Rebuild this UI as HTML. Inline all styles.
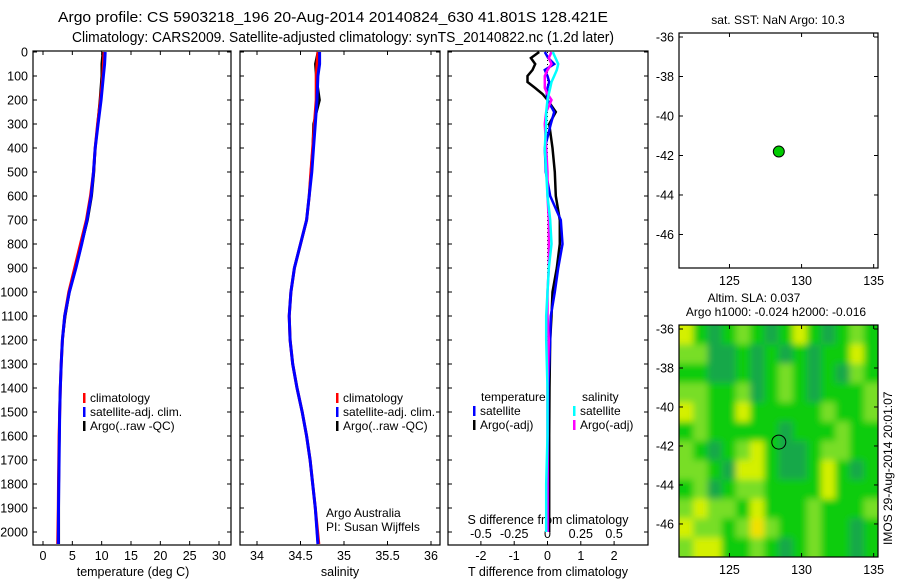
<!DOCTYPE html>
<html><head><meta charset="utf-8"><style>
html,body{margin:0;padding:0;background:#fff;}
svg{display:block;font-family:"Liberation Sans",sans-serif;}
text{fill:#000;}
</style></head><body>
<svg id="fig" width="900" height="580" viewBox="0 0 900 580">
<defs>
<filter id="blur" x="-5%" y="-5%" width="110%" height="110%"><feGaussianBlur stdDeviation="3.5"/></filter>
<clipPath id="mapclip"><rect x="679" y="325" width="199" height="232"/></clipPath>
</defs>
<text x="333" y="22" font-size="14.5" text-anchor="middle" textLength="550" lengthAdjust="spacingAndGlyphs">Argo profile: CS 5903218_196 20-Aug-2014 20140824_630 41.801S 128.421E</text>
<text x="343" y="42" font-size="14.5" text-anchor="middle" textLength="542" lengthAdjust="spacingAndGlyphs">Climatology: CARS2009. Satellite-adjusted climatology: synTS_20140822.nc (1.2d later)</text>
<g id="g"></g>
</svg>
<script>
// ---- data ----
const depthTicks = [0,100,200,300,400,500,600,700,800,900,1000,1100,1200,1300,1400,1500,1600,1700,1800,1900,2000];
const tTicks = [0,5,10,15,20,25,30];
const sTicks = [34,34.5,35,35.5,36];
const dTTicks = [-2,-1,0,1,2];
const dSTicks = [-0.5,-0.25,0,0.25,0.5];
const dSTickLabels = ["-0.5","-0.25","0","0.25","0.5"];
const profDepth = [0,50,100,200,300,400,500,600,700,800,900,1000,1100,1200,1300,1400,1500,1600,1700,1800,1900,2050];
const tempClim = [10.4,10.3,10.2,9.8,9.3,8.9,8.6,8.1,7.4,6.4,5.4,4.4,3.7,3.3,3.1,2.95,2.85,2.75,2.7,2.65,2.6,2.5];
const tempSat  = [10.6,10.5,10.3,9.9,9.4,8.9,8.6,8.2,7.5,6.6,5.6,4.5,3.7,3.3,3.1,2.95,2.85,2.8,2.75,2.7,2.65,2.6];
const tempArgo = [10.2,10.0,10.0,9.7,9.3,8.9,8.7,8.3,7.6,6.6,5.6,4.5,3.8,3.3,3.1,2.95,2.85,2.8,2.75,2.7,2.7,2.7];
const salClim = [34.70,34.69,34.68,34.68,34.66,34.64,34.62,34.60,34.57,34.50,34.43,34.39,34.37,34.38,34.41,34.46,34.52,34.57,34.61,34.64,34.67,34.71];
const salSat  = [34.72,34.72,34.70,34.69,34.67,34.65,34.63,34.60,34.57,34.50,34.43,34.39,34.37,34.38,34.41,34.46,34.52,34.57,34.61,34.64,34.67,34.70];
const salArgo = [34.70,34.67,34.68,34.72,34.65,34.64,34.62,34.60,34.57,34.50,34.43,34.39,34.37,34.38,34.41,34.46,34.52,34.57,34.61,34.64,34.67,34.70];
const diffDepth = [0,25,50,75,100,125,150,175,200,250,300,400,500,600,700,800,900,1000,1100,1200,1400,1600,1800,2000];
const dTArgo = [-0.25,-0.5,-0.37,-0.45,-0.6,-0.6,-0.37,-0.15,0,0.25,0.05,0.15,0.22,0.25,0.37,0.37,0.28,0.15,0.12,0.08,0.06,0.05,0.05,0.05];
const dTSat  = [-0.08,0.02,0.2,-0.08,0,0.05,0,-0.02,0,0.2,0.1,-0.08,-0.05,0.08,0.4,0.45,0.32,0.22,0.1,0.08,0.02,0.01,0.01,0.01];
const dSSat  = [0.04,0.06,0.08,0.07,0.05,0.03,0.02,0.01,0,-0.01,-0.01,-0.02,-0.01,0,0.02,0.03,0.01,0,-0.01,-0.01,0,0,-0.01,-0.01];
const dSArgo = [0.03,0.01,0.03,0,-0.02,-0.02,-0.02,0,0.03,-0.01,-0.02,-0.01,0,0,0.01,0.01,0.01,0,0,0.01,0,0,0,0];
const mapLonTicks = [125,130,135];
const mapLatTicks = [-36,-38,-40,-42,-44,-46];
const floatLon = 128.421, floatLat = -41.801;
const slaGrid = [
[3,1,0,1,2,1,0,1,3,1,0,1,2,1],
[2,2,0,0,1,0,1,0,1,0,1,1,3,1],
[1,1,0,0,1,0,1,2,1,0,1,0,2,1],
[2,2,1,1,2,0,1,2,1,0,1,1,1,2],
[3,2,1,1,3,1,1,1,1,1,2,1,1,2],
[1,2,1,1,1,1,1,0,1,1,1,2,1,1],
[2,1,0,1,2,3,1,0,0,1,2,2,1,1],
[2,2,1,0,3,3,1,0,0,1,3,1,0,1],
[1,2,0,1,2,2,1,1,1,1,3,1,1,1],
[2,3,2,2,1,3,1,1,1,2,1,1,1,2],
[3,2,2,1,2,4,2,1,1,2,1,1,0,1],
[2,3,3,1,1,2,1,0,1,2,1,1,0,1]];
const slaColors = ["#18a848","#0ccc10","#78de28","#d4f000","#f2e000"];

const NS="http://www.w3.org/2000/svg";
const G=document.getElementById('g');
function el(tag,attrs,parent){const e=document.createElementNS(NS,tag);for(const k in attrs)e.setAttribute(k,attrs[k]);(parent||G).appendChild(e);return e;}
function txt(s,x,y,size,anchor,parent){const t=el('text',{x:x,y:y,'font-size':size,'text-anchor':anchor||'start'},parent);t.textContent=s;return t;}

const Y0=52, Y2000=532;
function yD(d){return Y0+(Y2000-Y0)*d/2000;}
const panelTop=51, panelBot=545;

function panel(name,x0,x1){
  const g=el('g',{});
  
  
  el('rect',{x:x0,y:panelTop,width:x1-x0,height:panelBot-panelTop,fill:'#fff',stroke:'#000','stroke-width':1.2},g);
  depthTicks.forEach(d=>{const y=yD(d);
    el('line',{x1:x0,x2:x0+4,y1:y,y2:y,stroke:'#000'},g);
    el('line',{x1:x1-4,x2:x1,y1:y,y2:y,stroke:'#000'},g);});
  return g;
}
function xTicks(g,vals,labels,fx,yb,top){
  vals.forEach((v,i)=>{const x=fx(v);
    el('line',{x1:x,x2:x,y1:panelBot-4,y2:panelBot,stroke:'#000'},g);
    if(top) el('line',{x1:x,x2:x,y1:panelTop,y2:panelTop+4,stroke:'#000'},g);
    const t=txt(labels?labels[i]:String(v),x,yb,12.5,'middle',g);
    
    });
}
function line(g,xs,ds,fx,color,w,name,dash){
  const pts=xs.map((v,i)=>fx(v).toFixed(1)+','+yD(ds[i]).toFixed(1)).join(' ');
  const p=el('polyline',{points:pts,fill:'none',stroke:color,'stroke-width':w},g);
  if(dash)p.setAttribute('stroke-dasharray',dash);
  
  
  return p;
}
function legend(g,x,y,items){
  items.forEach((it,i)=>{
    el('rect',{x:x,y:y+i*14-9,width:2.5,height:10,fill:it[1]},g);
    const t=txt(it[0],x+7,y+i*14,12,'start',g);
    
    });
}

const p1=panel('temperature-panel',33,231);
const fT=v=>43+v*(219-43)/30;
xTicks(p1,tTicks,null,fT,560,true);
depthTicks.forEach(d=>{const t=txt(String(d),28,yD(d)+4.5,12.5,'end',p1);
  
  });
txt('temperature (deg C)',133,576,12.5,'middle',p1);
line(p1,tempArgo,profDepth,fT,'#000',2.5,'argo-temperature-line');
line(p1,tempClim,profDepth,fT,'#f00',3,'climatology-temperature-line');
line(p1,tempSat,profDepth,fT,'#00f',3,'satellite-temperature-line');
legend(p1,83,402,[['climatology','#f00'],['satellite-adj. clim.','#00f'],['Argo(..raw -QC)','#000']]);

const p2=panel('salinity-panel',240,440);
const fS=v=>257+(v-34)*(431-257)/2;
xTicks(p2,sTicks,null,fS,560,true);
txt('salinity',340,576,12.5,'middle',p2);
line(p2,salArgo,profDepth,fS,'#000',2.5,'argo-salinity-line');
line(p2,salClim,profDepth,fS,'#f00',3,'climatology-salinity-line');
line(p2,salSat,profDepth,fS,'#00f',3,'satellite-salinity-line');
legend(p2,336,402,[['climatology','#f00'],['satellite-adj. clim.','#00f'],['Argo(..raw -QC)','#000']]);
txt('Argo Australia',326,517,12,'start',p2);
txt('PI: Susan Wijffels',326,531,12,'start',p2);

const p3=panel('difference-panel',448,648);
const fdT=v=>547.5+v*33.3;
const fdS=v=>547.5+v*133.2;
xTicks(p3,dTTicks,null,fdT,560,false);
dSTicks.forEach((v,i)=>{const t=txt(dSTickLabels[i],fdS(v),538,12.5,'middle',p3);
  
  });
txt('S difference from climatology',548,524,12.5,'middle',p3);
txt('T difference from climatology',548,576,12.5,'middle',p3);
const zl=el('line',{x1:fdT(0),x2:fdT(0),y1:yD(0),y2:yD(2000),stroke:'#000','stroke-width':1,'stroke-dasharray':'1,3'},p3);

line(p3,dTArgo,diffDepth,fdT,'#000',2.5,'argo-t-diff-line');
line(p3,dTSat,diffDepth,fdT,'#00f',2.5,'satellite-t-diff-line');
line(p3,dSArgo,diffDepth,fdS,'#f0f',2.5,'argo-s-diff-line');
line(p3,dSSat,diffDepth,fdS,'#0ff',2.5,'satellite-s-diff-line');
txt('temperature',481,401,12,'start',p3);
legend(p3,473,415,[['satellite','#00f'],['Argo(-adj)','#000']]);
txt('salinity',582,401,12,'start',p3);
legend(p3,573,415,[['satellite','#0ff'],['Argo(-adj)','#f0f']]);

function mapAxes(name,top,bot,heat){
  const g=el('g',{});
  
  
  const L=679,R=878;
  const fx=v=>L+(v-121.5)*(R-L)/13.8;
  const fy=v=>top+(-36-v)*(bot-top)/11.9+4;
  if(heat){
    const clipG=el('g',{'clip-path':'url(#mapclip)'},g);
    el('rect',{x:L,y:top,width:R-L,height:bot-top,fill:slaColors[1]},clipG);
    const hg=el('g',{filter:'url(#blur)'},clipG);
    const rows=slaGrid.length, cols=slaGrid[0].length;
    const cw=(R-L)/cols, ch=(bot-top)/rows;
    slaGrid.forEach((r,i)=>r.forEach((v,j)=>{
      const x0=L+j*cw-(j==0?10:0), y0=top+i*ch-(i==0?10:0);
      const c=el('rect',{x:x0,y:y0,width:cw+0.5+(j==0||j==cols-1?10:0),height:ch+0.5+(i==0||i==rows-1?10:0),fill:slaColors[v]},hg);
      
      
    }));
  }
  el('rect',{x:L,y:top,width:R-L,height:bot-top,fill:'none',stroke:'#000','stroke-width':1.2},g);
  mapLonTicks.forEach(v=>{const x=fx(v);
    el('line',{x1:x,x2:x,y1:top,y2:top+4,stroke:'#000'},g);
    el('line',{x1:x,x2:x,y1:bot-4,y2:bot,stroke:'#000'},g);
    txt(String(v),x,bot+17,12.5,'middle',g);});
  mapLatTicks.forEach(v=>{const y=fy(v);
    el('line',{x1:L,x2:L+4,y1:y,y2:y,stroke:'#000'},g);
    el('line',{x1:R-4,x2:R,y1:y,y2:y,stroke:'#000'},g);
    txt(String(v),L-5,y+4.5,12.5,'end',g);});
  const m=el('circle',{cx:fx(floatLon),cy:fy(floatLat),r:heat?7:5.5,fill:heat?'none':'#0c0',stroke:'#000','stroke-width':1},g);
  
  
  return g;
}
const m1=mapAxes('sst-map',33,268,false);
txt('sat. SST: NaN Argo: 10.3',778,24,12,'middle',m1);
const m2=mapAxes('sla-map',325,557,true);
txt('Altim. SLA: 0.037',754,302,12,'middle',m2);
txt('Argo h1000: -0.024 h2000: -0.016',776,316,12,'middle',m2);
const st=txt('IMOS 29-Aug-2014 20:01:07',0,0,12,'start',m2);
st.setAttribute('transform','translate(892,545) rotate(-90)');

</script>
</body></html>
